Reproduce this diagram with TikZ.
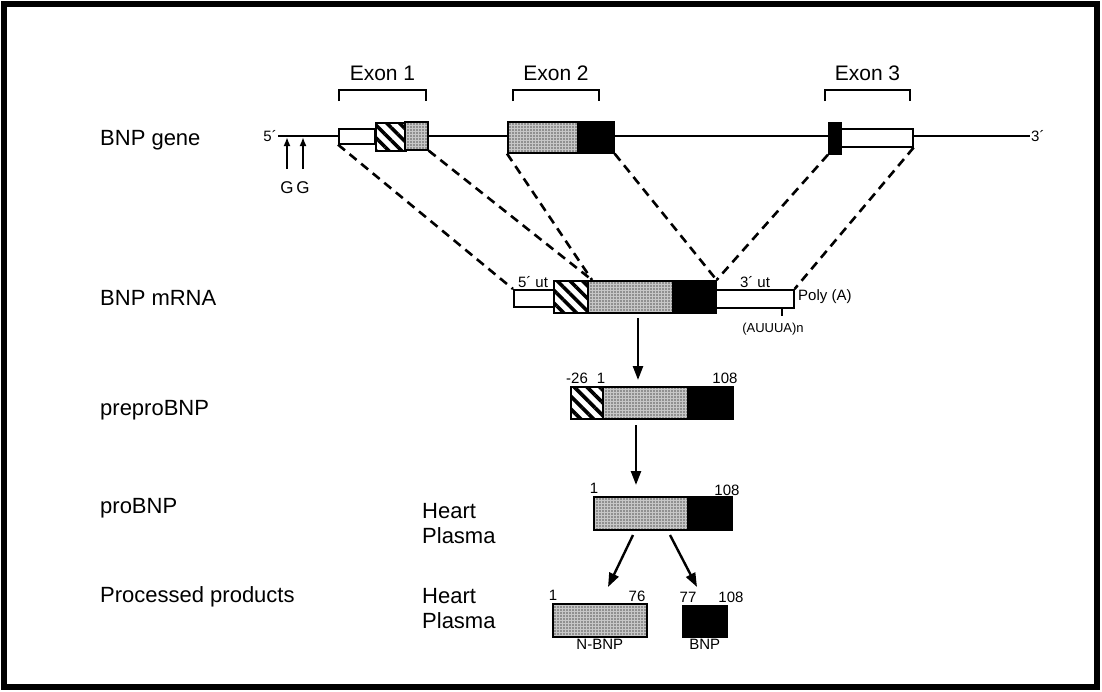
\documentclass[tikz,border=0pt]{standalone}
\usepackage{fontspec}
\setmainfont{Liberation Sans}
\usetikzlibrary{arrows.meta,patterns.meta}
\tikzset{
  seg/.style={draw, line width=1.6pt, inner sep=0pt, anchor=north west},
  utr/.style={seg, fill=white},
  sig/.style={seg, preaction={fill=white}, pattern={Lines[angle=-45,distance=9pt,line width=3.6pt]}},
  pro/.style={seg, preaction={fill=black!22}, pattern={Dots[distance=3pt,radius=0.8pt]}, pattern color=black!65},
  hor/.style={seg, fill=black},
  joinline/.style={line width=2.6pt, dash pattern=on 9pt off 6pt},
  procarrow/.style={line width=2.4pt, -{Triangle[length=14pt,width=10pt]}},
  lbl/.style={font=\fontsize{22}{25}\selectfont, anchor=west, align=left, inner sep=0pt},
  tiny/.style={font=\fontsize{15}{17}\selectfont, inner sep=1pt},
  exlbl/.style={font=\fontsize{21}{24}\selectfont, inner sep=0pt}
}
\begin{document}
\begin{tikzpicture}[x=1pt,y=-1pt]
\useasboundingbox (0,0) rectangle (1102,691);
\draw[line width=6.5pt] (4,4) rectangle (1097,687); % frame

% row labels
\node[lbl] (lgene) at (100,140) {BNP gene};
\node[lbl] (lmrna) at (100,298) {BNP mRNA};
\node[lbl] (lprepro) at (100,410) {preproBNP};
\node[lbl] (lpro) at (100,508) {proBNP};
\node[lbl] (lprod) at (100,597) {Processed products};
\node[lbl] (hp1) at (422,524) {Heart\\Plasma};
\node[lbl] (hp2) at (422,609) {Heart\\Plasma};

% gene
\coordinate (g5) at (278,136);
\coordinate (g3) at (1030,136);
\draw[line width=1.3pt] (g5) -- (g3);
\node[tiny, anchor=east] (t5) at (g5) {5´};
\node[tiny, anchor=west] (t3) at (g3) {3´};
\foreach \x/\n in {287/ga, 303/gb}{
  \node[font=\fontsize{17}{19}\selectfont, inner sep=0pt] (\n) at (\x,188) {G};
  \draw[line width=1.8pt, -{Latex[length=9pt,width=7pt]}] (\x,169) -- (\x,137);
}

\node[utr, minimum width=36pt, minimum height=15pt] (g1u) at (338,128) {};
\node[sig, minimum width=30pt, minimum height=28pt] (g1s) at (374,121) {};
\node[pro, minimum width=23pt, minimum height=28pt] (g1p) at (404,121) {};
\node[pro, minimum width=70pt, minimum height=31pt] (g2p) at (507,121) {};
\node[hor, minimum width=36pt, minimum height=31pt] (g2b) at (577,121) {};
\node[hor, minimum width=12pt, minimum height=31pt] (g3b) at (828,122) {};
\node[utr, minimum width=72pt, minimum height=18pt] (g3u) at (840,128) {};

% exon brackets
\foreach \a/\b/\t in {339/426/1, 513/599/2, 825/910/3}{
  \draw[line width=1.4pt] (\a,101) -- (\a,90) -- (\b,90) -- (\b,101);
  \node[exlbl, anchor=south] (ex\t) at ({(\a+\b)/2},81) {Exon \t};
}

% mRNA
\node[utr, minimum width=40pt, minimum height=17pt] (m5u) at (513,289) {};
\node[sig, minimum width=34pt, minimum height=32pt] (m1s) at (553,280) {};
\node[pro, minimum width=85pt, minimum height=32pt] (m1p) at (587,280) {};
\node[hor, minimum width=43pt, minimum height=32pt] (m1b) at (672,280) {};
\node[utr, minimum width=78pt, minimum height=18pt] (m3u) at (715,289) {};
\node[tiny, anchor=south] (u5) at (533,289) {5´ ut};
\node[tiny, anchor=south] (u3) at (755,289) {3´ ut};
\node[tiny, anchor=west] (polya) at (797,297) {Poly (A)};
\coordinate (tk) at (782,307);
\draw[line width=1.2pt] (tk) -- (782,316);
\node[tiny, anchor=north, font=\fontsize{13}{15}\selectfont] (au) at (773,322) {(AUUUA)n};

% exon to mRNA
\coordinate (j1) at (592,280);
\draw[joinline] (g1u.south west) -- (m5u.north west);
\draw[joinline] (g1p.south east) -- (j1);
\draw[joinline] (g2p.south west) -- (j1);
\draw[joinline] (g2b.south east) -- (m1b.north east);
\draw[joinline] (g3b.south west) -- (m1b.north east);
\draw[joinline] (g3u.south east) -- (m3u.north east);

% preproBNP
\node[sig, minimum width=32pt, minimum height=32pt] (p1s) at (570,386) {};
\node[pro, minimum width=85pt, minimum height=32pt] (p1p) at (602,386) {};
\node[hor, minimum width=45pt, minimum height=32pt] (p1b) at (687,386) {};
\node[tiny, anchor=south] (n26) at (577,385) {-26};
\node[tiny, anchor=south] (n1a) at (601,385) {1};
\node[tiny, anchor=south] (n108a) at (725,385) {108};
\coordinate (a1s) at (638,318);
\coordinate (a1e) at (638,380);
\draw[procarrow] (a1s) -- (a1e);

% proBNP
\node[pro, minimum width=94pt, minimum height=33pt] (r1p) at (593,496) {};
\node[hor, minimum width=44pt, minimum height=33pt] (r1b) at (687,496) {};
\node[tiny, anchor=south] (n1b) at (594,495) {1};
\node[tiny, anchor=south] (n108b) at (727,497) {108};
\coordinate (a2s) at (636,425);
\coordinate (a2e) at (636,485);
\draw[procarrow] (a2s) -- (a2e);

% processed products
\node[pro, minimum width=94pt, minimum height=33pt] (nbnp) at (552,603) {};
\node[hor, minimum width=44pt, minimum height=31pt] (bnp) at (682,605) {};
\node[tiny, anchor=south] (n1c) at (553,602) {1};
\node[tiny, anchor=south] (n76) at (637,603) {76};
\node[tiny, anchor=south] (n77) at (688,604) {77};
\node[tiny, anchor=south] (n108c) at (731,604) {108};
\node[tiny, anchor=north] (tn) at (nbnp.south) {N-BNP};
\node[tiny, anchor=north] (tb) at (bnp.south) {BNP};
\coordinate (a3s) at (633,535);
\coordinate (a3e) at (608,587);
\coordinate (a4s) at (670,535);
\coordinate (a4e) at (697,587);
\draw[procarrow] (a3s) -- (a3e);
\draw[procarrow] (a4s) -- (a4e);
\end{tikzpicture}
\end{document}
